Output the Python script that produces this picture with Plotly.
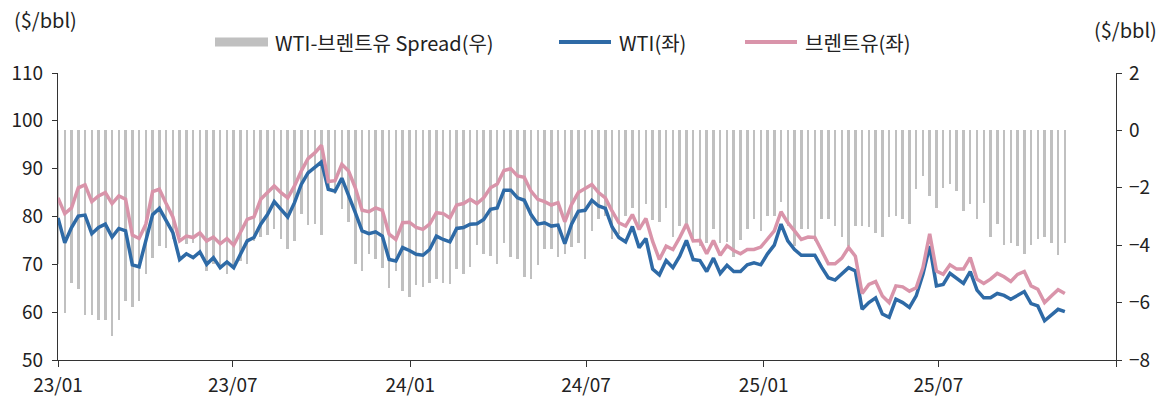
import pandas as pd
import plotly.graph_objects as go

# ---- data (weekly) ----
start_date = "2023-01-01"
n_weeks = 150

wti = [
    79.7, 74.5, 77.7, 80.1, 80.3, 76.4, 77.7, 78.4, 75.7, 77.5,
    77.0, 69.9, 69.5, 74.9, 80.4, 81.7, 79.0, 76.6, 71.0, 72.2,
    71.4, 72.6, 70.0, 71.4, 69.3, 70.5, 69.3, 72.1, 74.9, 75.6,
    78.4, 80.4, 83.1, 81.5, 79.9, 82.9, 86.7, 89.1, 90.3, 91.4,
    85.7, 85.3, 88.0, 84.6, 80.8, 77.0, 76.4, 76.8, 75.9, 71.0,
    70.7, 73.5, 72.9, 72.1, 71.9, 73.1, 75.9, 75.2, 74.7, 77.5,
    77.7, 78.4, 78.5, 79.4, 81.5, 81.8, 85.5, 85.5, 83.9, 83.4,
    80.4, 78.4, 78.7, 78.0, 78.2, 74.3, 78.4, 81.1, 81.3, 83.4,
    82.2, 81.7, 77.8, 75.6, 74.7, 77.9, 73.5, 75.4, 69.0, 67.8,
    70.8, 69.3, 71.7, 75.0, 71.0, 70.8, 68.5, 71.3, 68.1, 69.8,
    68.5, 68.5, 69.9, 70.3, 69.9, 72.2, 74.0, 78.4, 74.9, 73.1,
    71.9, 71.9, 71.9, 69.4, 67.2, 66.7, 67.9, 69.3, 68.6, 60.6,
    62.0, 63.0, 59.6, 58.9, 62.7, 62.0, 61.0, 63.4, 67.9, 73.8,
    65.5, 65.8, 68.1, 67.0, 66.0, 68.5, 64.6, 63.0, 63.0, 63.9,
    63.5, 62.7, 63.6, 64.3, 61.8, 61.3, 58.2, 59.4, 60.6, 60.1,
]

brent = [
    83.9, 80.6, 81.8, 86.0, 86.6, 83.1, 84.3, 85.0, 82.7, 84.3,
    83.6, 76.1, 75.4, 78.4, 85.2, 85.7, 82.7, 79.9, 74.9, 75.9,
    75.6, 76.6, 74.9, 75.7, 74.3, 75.4, 74.0, 76.6, 79.4, 79.9,
    83.6, 85.0, 86.4, 85.0, 83.9, 86.4, 89.5, 92.1, 93.3, 94.9,
    87.3, 87.5, 90.9, 89.5, 86.0, 81.3, 81.0, 81.8, 81.3, 76.3,
    75.2, 78.7, 78.8, 77.7, 77.3, 78.4, 80.8, 80.6, 79.7, 82.4,
    82.7, 83.6, 82.7, 83.9, 86.0, 86.8, 89.6, 90.0, 88.5, 88.2,
    85.3, 83.6, 83.1, 82.4, 82.9, 78.9, 82.5, 85.0, 85.9, 86.7,
    85.0, 83.9, 81.1, 78.7, 78.0, 80.4, 77.3, 79.6, 74.8, 71.0,
    73.8, 73.1, 75.6, 78.4, 74.9, 75.0, 72.2, 75.0, 71.9, 73.9,
    72.9, 72.2, 73.1, 73.1, 73.6, 75.2, 77.0, 81.0, 78.7, 77.0,
    75.2, 75.7, 75.6, 72.9, 70.1, 70.1, 71.3, 73.5, 71.7, 63.9,
    65.8, 66.4, 63.4, 62.0, 65.5, 65.3, 64.4, 65.1, 69.3, 76.4,
    68.6, 67.9, 69.9, 69.0, 69.0, 71.4, 66.9, 66.0, 66.9, 68.1,
    67.4, 66.4, 67.9, 68.5, 65.5, 64.8, 62.0, 63.4, 64.7, 63.9,
]

spread = [
    -4.66, -6.35, -5.30, -5.54, -6.43, -6.43, -6.62, -6.62, -7.16, -6.62,
    -5.94, -6.15, -5.94, -5.01, -4.43, -4.03, -4.08, -3.79, -3.73, -3.97,
    -3.91, -4.32, -4.90, -4.66, -4.84, -5.01, -4.72, -4.55, -4.66, -3.85,
    -3.73, -3.64, -3.44, -3.79, -4.14, -3.85, -2.90, -3.29, -3.27, -3.64,
    -2.11, -2.23, -2.75, -3.18, -4.64, -4.90, -4.29, -4.49, -4.78, -5.48,
    -4.90, -5.59, -5.80, -5.38, -5.45, -5.30, -5.19, -5.30, -5.34, -4.84,
    -5.01, -4.76, -3.99, -4.29, -4.37, -4.64, -3.94, -4.41, -4.49, -5.11,
    -5.19, -4.69, -4.14, -4.14, -4.41, -4.29, -4.06, -3.94, -4.49, -3.50,
    -3.10, -2.98, -3.79, -3.60, -2.98, -2.69, -3.39, -2.57, -3.13, -3.18,
    -2.69, -3.73, -3.33, -3.36, -3.79, -4.03, -3.91, -3.44, -3.91, -3.90,
    -4.41, -3.83, -3.44, -3.10, -3.50, -2.98, -2.98, -2.48, -3.33, -4.03,
    -3.44, -3.44, -3.85, -3.10, -3.10, -3.33, -3.71, -4.03, -3.33, -3.33,
    -3.36, -3.56, -3.71, -3.02, -2.98, -3.10, -3.25, -2.05, -1.59, -2.28,
    -2.69, -1.99, -1.85, -2.11, -2.81, -2.55, -3.10, -2.52, -3.71, -3.27,
    -3.99, -3.94, -4.03, -4.29, -3.99, -3.79, -3.71, -3.91, -4.34, -3.94,
]

tick_dates = ["2023-01-01", "2023-07-01", "2024-01-01", "2024-07-01",
              "2025-01-01", "2025-07-01", "2026-01-01"]
tick_labels = ["23/01", "23/07", "24/01", "24/07", "25/01", "25/07", ""]

left_ticks = [50, 60, 70, 80, 90, 100, 110]
right_ticks = [-8, -6, -4, -2, 0, 2]

names = ["WTI-브렌트유 Spread(우)", "WTI(좌)", "브렌트유(좌)"]
unit_label = "($/bbl)"

# ---- styles ----
FONT = "Noto Sans CJK KR"
C_BAR = "#c0c0c0"
C_WTI = "#2e6aa6"
C_BRENT = "#d994aa"
C_AXIS = "#333333"
FS_TICK = 19
FS_TEXT = 20

dates = pd.date_range(start_date, periods=n_weeks, freq="7D")

fig = go.Figure()
fig.add_trace(go.Bar(
    x=dates, y=spread, yaxis="y", name=names[0],
    marker=dict(color=C_BAR, line=dict(width=0)),
    width=2.6 * 86400000, showlegend=False,
))
fig.add_trace(go.Scatter(
    x=dates, y=wti, yaxis="y2", name=names[1], mode="lines",
    line=dict(color=C_WTI, width=3.5), showlegend=False,
))
fig.add_trace(go.Scatter(
    x=dates, y=brent, yaxis="y2", name=names[2], mode="lines",
    line=dict(color=C_BRENT, width=3.5), showlegend=False,
))

L, R, T, B = 58, 52, 73, 37
W, H = 1168, 397
pw = W - L - R
ph = H - T - B


def px(xp):
    return (xp - L) / pw


def py(yp):
    return (H - B - yp) / ph


axis_common = dict(
    showgrid=False, zeroline=False,
    showline=True, linecolor=C_AXIS, linewidth=1.3,
    ticks="outside", tickcolor=C_AXIS, tickwidth=1.3,
    tickfont=dict(size=FS_TICK), automargin=False,
)

fig.update_layout(
    width=W, height=H,
    margin=dict(l=L, r=R, t=T, b=B, autoexpand=False),
    paper_bgcolor="white", plot_bgcolor="white",
    font=dict(family=FONT, size=FS_TICK, color="#222222"),
    showlegend=False,
    bargap=0,
    xaxis=dict(
        type="date", range=["2023-01-01", "2026-01-01"],
        tickvals=tick_dates, ticktext=tick_labels, ticklen=6,
        ticklabelstandoff=2, **axis_common,
    ),
    yaxis=dict(
        side="right", range=[-8, 2], tickvals=right_ticks, ticklen=5,
        ticklabelstandoff=3, **axis_common,
    ),
    yaxis2=dict(
        side="left", overlaying="y", range=[50, 110], tickvals=left_ticks,
        ticklen=5, ticklabelstandoff=5, **axis_common,
    ),
)

# unit labels
fig.add_annotation(text=unit_label, xref="paper", yref="paper",
                   x=px(12), y=py(20), xanchor="left", yanchor="middle",
                   showarrow=False, font=dict(size=FS_TEXT))
fig.add_annotation(text=unit_label, xref="paper", yref="paper",
                   x=px(1125), y=py(30), xanchor="center", yanchor="middle",
                   showarrow=False, font=dict(size=FS_TEXT))

# custom legend
ly = py(42)
fig.add_shape(type="rect", xref="paper", yref="paper",
              x0=px(215), x1=px(268), y0=py(46.5), y1=py(37.5),
              fillcolor=C_BAR, line=dict(width=0))
fig.add_shape(type="line", xref="paper", yref="paper",
              x0=px(559), x1=px(611), y0=ly, y1=ly,
              line=dict(color=C_WTI, width=4))
fig.add_shape(type="line", xref="paper", yref="paper",
              x0=px(745), x1=px(797), y0=ly, y1=ly,
              line=dict(color=C_BRENT, width=4))
for xpx, txt in [(273, names[0]), (617, names[1]), (803, names[2])]:
    fig.add_annotation(text=txt, xref="paper", yref="paper",
                       x=px(xpx), y=ly, xanchor="left", yanchor="middle",
                       showarrow=False, font=dict(size=FS_TEXT))

fig.write_html(
    "out.html",
    config={"displayModeBar": False},
    post_script="document.body.style.margin='0';"
                "document.body.style.overflow='hidden';",
)
